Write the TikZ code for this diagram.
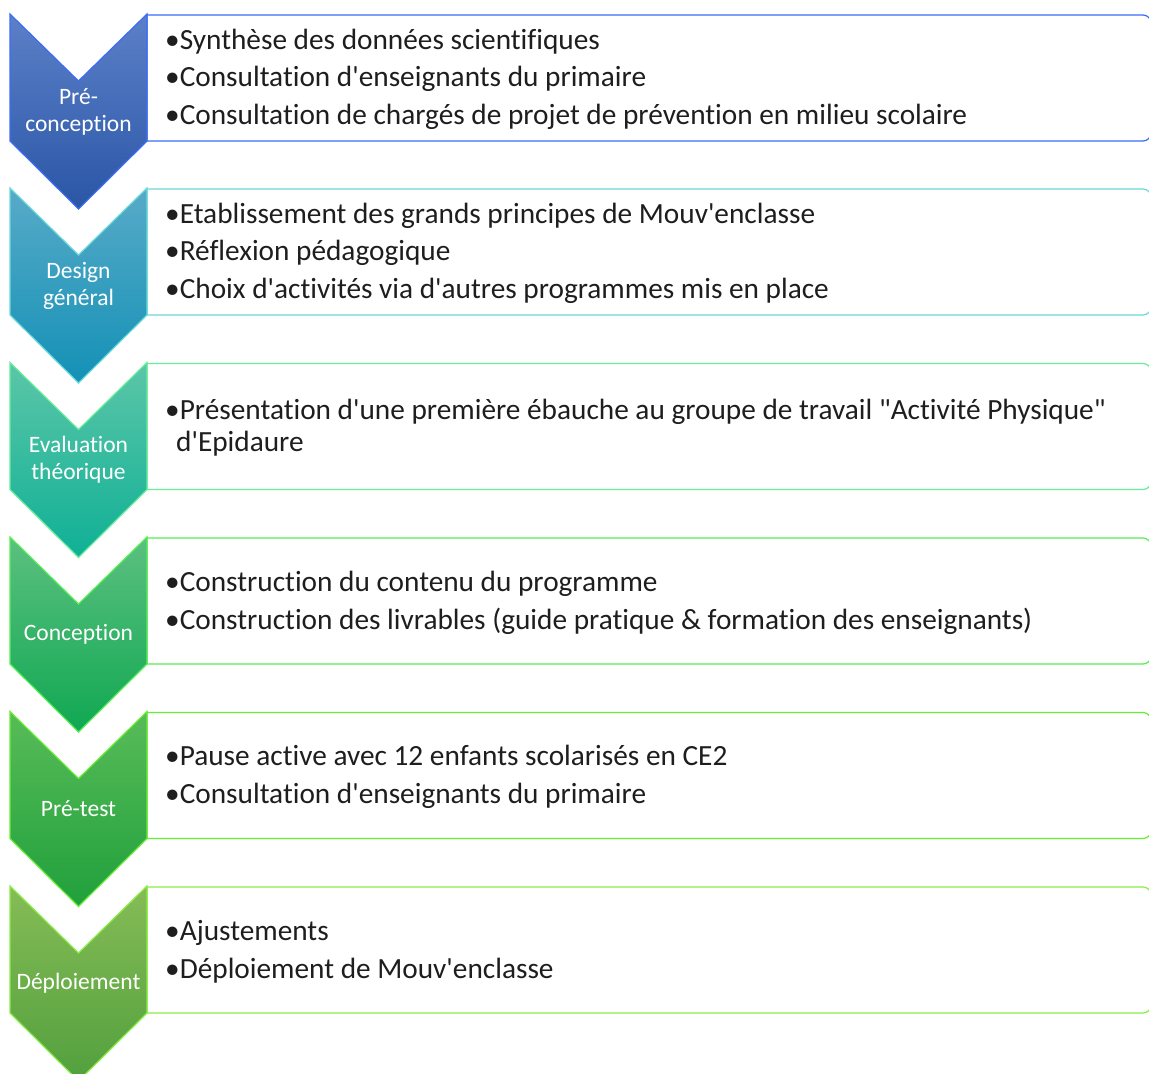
\documentclass[tikz,border=0pt]{standalone}
\usepackage{fontspec}
\setmainfont{Carlito}[Ligatures={TeXOff,NoCommon}]
\definecolor{txt}{HTML}{1E1E1E}
\definecolor{aT}{HTML}{5C80C8}\definecolor{aB}{HTML}{2A56A6}\definecolor{aL}{HTML}{3D6CF5}
\definecolor{bT}{HTML}{58AAC8}\definecolor{bB}{HTML}{1391B6}\definecolor{bL}{HTML}{6ADADA}
\definecolor{cT}{HTML}{5CC6A8}\definecolor{cB}{HTML}{0FB096}\definecolor{cL}{HTML}{66EE99}
\definecolor{dT}{HTML}{5CC080}\definecolor{dB}{HTML}{10A852}\definecolor{dL}{HTML}{55EE55}
\definecolor{eT}{HTML}{58BC58}\definecolor{eB}{HTML}{20A03C}\definecolor{eL}{HTML}{66EE33}
\definecolor{fT}{HTML}{86BC56}\definecolor{fB}{HTML}{52A03E}\definecolor{fL}{HTML}{88EE44}
\tikzset{
  itemtext/.style={anchor=base west, inner sep=0pt, text=txt, font=\fontsize{29.3}{35}\selectfont},
  chevlabel/.style={text=white, align=center, inner sep=0pt, font=\fontsize{23.5}{27}\selectfont},
}
% #1 top y, #2 top colour, #3 bottom colour, #4 line colour
\newcommand\mychevrow[4]{%
  \draw[#4, line width=1.2pt, fill=white]
    (147,#1+1) -- (1143,#1+1) arc[start angle=90,end angle=0,radius=8pt]
    -- (1151,#1+119) arc[start angle=0,end angle=-90,radius=8pt] -- (147,#1+127) -- cycle;
  \draw[#4, line width=1.2pt, top color=#2, bottom color=#3]
    (10,#1) -- (78.5,#1+67) -- (147,#1) -- (147,#1+127) -- (78.5,#1+195) -- (10,#1+127) -- cycle;
}
\begin{document}
\begin{tikzpicture}[x=1pt,y=-1pt]
\useasboundingbox (0,0) rectangle (1149,1074);
\clip (0,0) rectangle (1149,1074);
\fill[white] (0,0) rectangle (1149,1074);
% row 1
\mychevrow{14}{aT}{aB}{aL}
\node[chevlabel] (l1) at (78.5,111.5) {Pré-\\conception};
\node[itemtext] (t1a) at (165,49) {•Synthèse des données scientifiques};
\node[itemtext] (t1b) at (165,86.5) {•Consultation d'enseignants du primaire};
\node[itemtext] (t1c) at (165,124) {•Consultation de chargés de projet de prévention en milieu scolaire};
% row 2
\mychevrow{188}{bT}{bB}{bL}
\node[chevlabel] (l2) at (78.5,286) {Design\\général};
\node[itemtext] (t2a) at (165,223) {•Etablissement des grands principes de Mouv'enclasse};
\node[itemtext] (t2b) at (165,260.5) {•Réflexion pédagogique};
\node[itemtext] (t2c) at (165,298) {•Choix d'activités via d'autres programmes mis en place};
% row 3
\mychevrow{362.5}{cT}{cB}{cL}
\node[chevlabel] (l3) at (78.5,460) {Evaluation\\théorique};
\node[itemtext] (t3a) at (165,419.5) {•Présentation d'une première ébauche au groupe de travail "Activité Physique"};
\node[itemtext] (t3b) at (176,451.5) {d'Epidaure};
% row 4
\mychevrow{537}{dT}{dB}{dL}
\node[chevlabel] (l4) at (78.5,634) {Conception};
\node[itemtext] (t4a) at (165,591.5) {•Construction du contenu du programme};
\node[itemtext] (t4b) at (165,629) {•Construction des livrables (guide pratique \& formation des enseignants)};
% row 5
\mychevrow{711.5}{eT}{eB}{eL}
\node[chevlabel] (l5) at (78.5,809) {Pré-test};
\node[itemtext] (t5a) at (165,765.5) {•Pause active avec 12 enfants scolarisés en CE2};
\node[itemtext] (t5b) at (165,803) {•Consultation d'enseignants du primaire};
% row 6
\mychevrow{886}{fT}{fB}{fL}
\node[chevlabel] (l6) at (78.5,983) {Déploiement};
\node[itemtext] (t6a) at (165,940.5) {•Ajustements};
\node[itemtext] (t6b) at (165,978) {•Déploiement de Mouv'enclasse};
\end{tikzpicture}
\end{document}
